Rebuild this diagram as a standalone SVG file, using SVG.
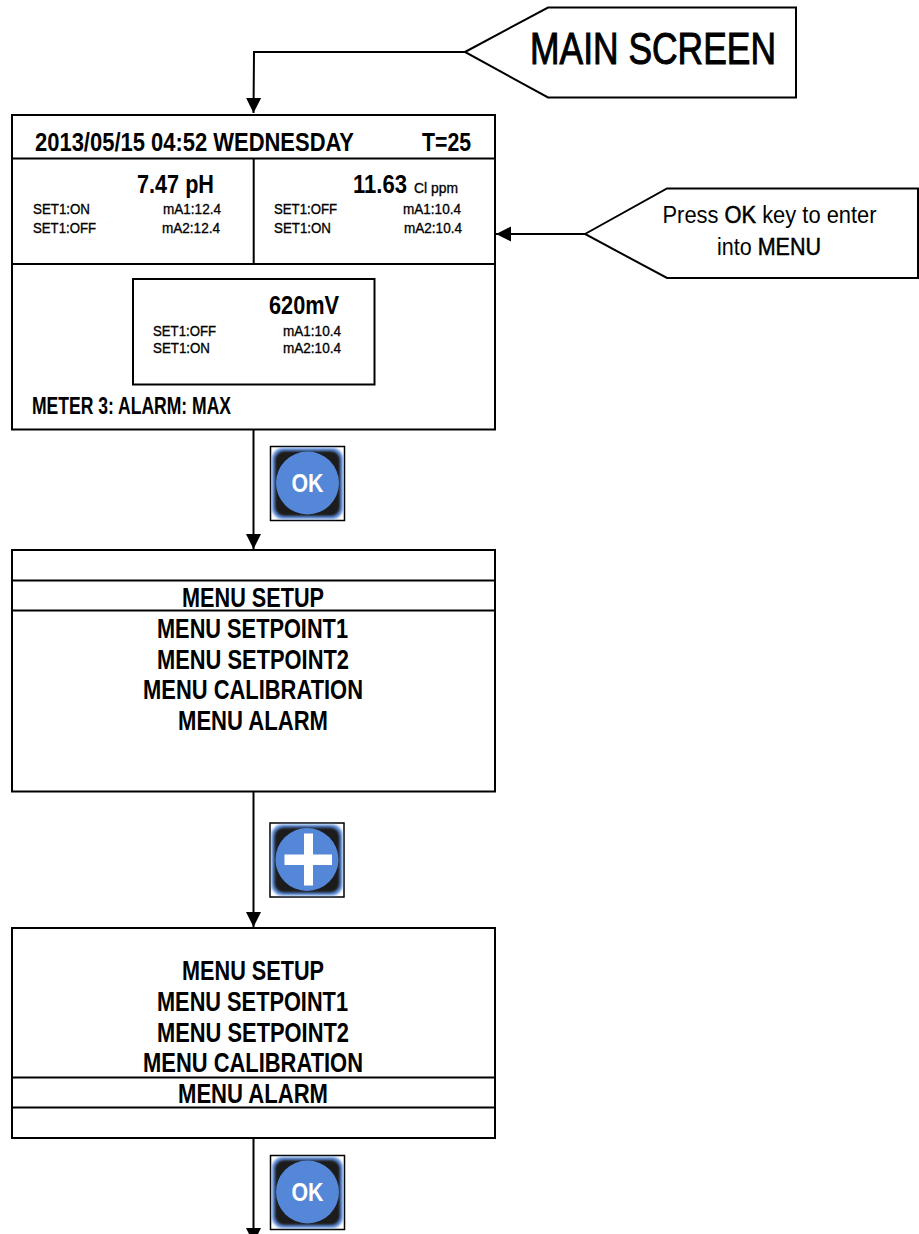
<svg xmlns="http://www.w3.org/2000/svg" width="919" height="1234" viewBox="0 0 919 1234">
<style>
.s{fill:#fff;stroke:#000;stroke-width:2}
.l{fill:none;stroke:#000;stroke-width:2}
text{font-family:"Liberation Sans",Arial,sans-serif;fill:#000;font-weight:700;stroke:none}
.h{font-size:26.500px}
.m{font-size:27.500px;text-anchor:middle}
.sm{font-size:15.500px;font-weight:400;stroke:#000;stroke-width:.35px}
.c{font-weight:400;font-size:23px;text-anchor:middle}
.e{stroke:#000;stroke-width:.5px}
.t{font-size:44px;font-weight:400;stroke:#000;stroke-width:1px}
.k{fill:#fff;font-size:25px;text-anchor:middle}
</style>
<defs>
<marker id="a" markerUnits="userSpaceOnUse" markerWidth="15" markerHeight="15" refX="15" refY="7.5" orient="auto" overflow="visible"><path d="M0 0L15 7.5L0 15Z" fill="#000"/></marker>
<filter id="b" x="-10%" y="-10%" width="120%" height="120%"><feGaussianBlur stdDeviation="0.8"/></filter>
<g id="btn">
<rect x="0.5" y="0.500" width="74" height="74" fill="#fff" stroke="#000" stroke-width="1.500"/>
<rect x="2" y="2" width="71" height="71" rx="11" fill="#5b8bd8" filter="url(#b)"/>
<rect x="5" y="5" width="65" height="65" rx="9" fill="#1d1a1b" filter="url(#b)"/>
<circle cx="37.5" cy="37" r="31.5" fill="#5487d8"/>
</g>
</defs>
<g id="connectors">
<path class="l" d="M465 52H254L253.500 113" marker-end="url(#a)"/>
<path class="l" d="M585 234H496" marker-end="url(#a)"/>
<path class="l" d="M253.500 430V549" marker-end="url(#a)"/>
<path class="l" d="M253.500 792V927" marker-end="url(#a)"/>
<path class="l" d="M253.500 1138V1243" marker-end="url(#a)"/>
</g>
<g id="main-screen">
<path class="s" d="M465 52L548 7.500H796V97.500H548Z"/>
<text class="t" x="530" y="64" textLength="246" lengthAdjust="spacingAndGlyphs">MAIN SCREEN</text>
</g>
<g id="press-ok">
<path class="s" d="M585 234L667 188.500H918V278H667Z"/>
<text class="c" x="769.500" y="223" textLength="214" lengthAdjust="spacingAndGlyphs">Press <tspan class="e">OK</tspan> key to enter</text>
<text class="c" x="769" y="255" textLength="104" lengthAdjust="spacingAndGlyphs">into <tspan class="e">MENU</tspan></text>
</g>
<g id="screen-main">
<rect class="s" x="12" y="115" width="483" height="314.500"/>
<path class="l" d="M12 158.500H495M12 264H495M253.700 158.500V264"/>
<text class="h" x="35" y="151" textLength="319" lengthAdjust="spacingAndGlyphs">2013/05/15 04:52 WEDNESDAY</text>
<text class="h" x="422" y="151" textLength="49" lengthAdjust="spacingAndGlyphs">T=25</text>
<text class="h" x="137" y="193" textLength="77" lengthAdjust="spacingAndGlyphs">7.47 pH</text>
<text class="h" x="353" y="193" textLength="54" lengthAdjust="spacingAndGlyphs">11.63</text>
<text class="sm" x="414" y="193" textLength="44" lengthAdjust="spacingAndGlyphs">Cl ppm</text>
<text class="sm" x="33" y="214" textLength="57" lengthAdjust="spacingAndGlyphs">SET1:ON</text>
<text class="sm" x="33" y="233" textLength="63" lengthAdjust="spacingAndGlyphs">SET1:OFF</text>
<text class="sm" x="163" y="214" textLength="58" lengthAdjust="spacingAndGlyphs">mA1:12.4</text>
<text class="sm" x="162" y="233" textLength="58" lengthAdjust="spacingAndGlyphs">mA2:12.4</text>
<text class="sm" x="274" y="214" textLength="63" lengthAdjust="spacingAndGlyphs">SET1:OFF</text>
<text class="sm" x="274" y="233" textLength="57" lengthAdjust="spacingAndGlyphs">SET1:ON</text>
<text class="sm" x="403" y="214" textLength="58" lengthAdjust="spacingAndGlyphs">mA1:10.4</text>
<text class="sm" x="404" y="233" textLength="58" lengthAdjust="spacingAndGlyphs">mA2:10.4</text>
<rect class="s" x="133" y="279" width="241.500" height="105.500"/>
<text class="h" x="269" y="314" textLength="70" lengthAdjust="spacingAndGlyphs">620mV</text>
<text class="sm" x="153" y="336" textLength="63" lengthAdjust="spacingAndGlyphs">SET1:OFF</text>
<text class="sm" x="153" y="353" textLength="57" lengthAdjust="spacingAndGlyphs">SET1:ON</text>
<text class="sm" x="283" y="336" textLength="58" lengthAdjust="spacingAndGlyphs">mA1:10.4</text>
<text class="sm" x="283" y="353" textLength="58" lengthAdjust="spacingAndGlyphs">mA2:10.4</text>
<text x="32" y="414" font-size="23" textLength="199" lengthAdjust="spacingAndGlyphs">METER 3: ALARM: MAX</text>
</g>
<g id="btn-ok-1" transform="translate(270 446)"><use href="#btn"/><text class="k" x="37.500" y="46" textLength="32" lengthAdjust="spacingAndGlyphs">OK</text></g>
<g id="screen-menu-1">
<rect class="s" x="12" y="550" width="483" height="241.500"/>
<path class="l" d="M12 580.500H495M12 610.500H495"/>
<text class="m" x="253" y="607" textLength="142" lengthAdjust="spacingAndGlyphs">MENU SETUP</text>
<text class="m" x="252.500" y="638" textLength="191" lengthAdjust="spacingAndGlyphs">MENU SETPOINT1</text>
<text class="m" x="253" y="669" textLength="192" lengthAdjust="spacingAndGlyphs">MENU SETPOINT2</text>
<text class="m" x="253" y="699" textLength="220" lengthAdjust="spacingAndGlyphs">MENU CALIBRATION</text>
<text class="m" x="253" y="730" textLength="150" lengthAdjust="spacingAndGlyphs">MENU ALARM</text>
</g>
<g id="btn-plus" transform="translate(269.500 822.500)"><use href="#btn"/><path d="M15 32H62.500V42.500H15ZM34.500 11H43.500V63H34.500Z" fill="#fff"/></g>
<g id="screen-menu-2">
<rect class="s" x="12" y="928" width="483" height="210"/>
<path class="l" d="M12 1077.500H495M12 1107.500H495"/>
<text class="m" x="253" y="980" textLength="142" lengthAdjust="spacingAndGlyphs">MENU SETUP</text>
<text class="m" x="252.500" y="1011" textLength="191" lengthAdjust="spacingAndGlyphs">MENU SETPOINT1</text>
<text class="m" x="253" y="1042" textLength="192" lengthAdjust="spacingAndGlyphs">MENU SETPOINT2</text>
<text class="m" x="253" y="1072" textLength="220" lengthAdjust="spacingAndGlyphs">MENU CALIBRATION</text>
<text class="m" x="253" y="1103" textLength="150" lengthAdjust="spacingAndGlyphs">MENU ALARM</text>
</g>
<g id="btn-ok-2" transform="translate(270 1155)"><use href="#btn"/><text class="k" x="37.500" y="46" textLength="32" lengthAdjust="spacingAndGlyphs">OK</text></g>
</svg>
